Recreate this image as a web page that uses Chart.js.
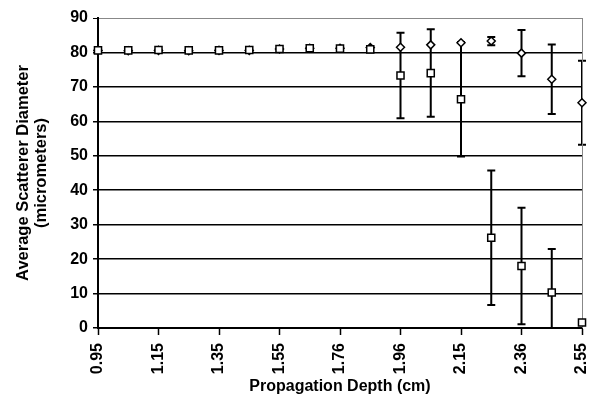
<!DOCTYPE html>
<html lang="en">
<head>
  <meta charset="UTF-8">
  <title>Average Scatterer Diameter</title>
  <script src="https://cdn.jsdelivr.net/npm/chart.js"></script>
  <style>
    body {
      margin: 0;
      background: #fff;
    }
  </style>
</head>
<body>
  <canvas id="chart" width="590" height="403"></canvas>
  <script>
    // propagation depth categories (cm)
    const depths = ['0.95', '1.05', '1.15', '1.25', '1.35', '1.45', '1.55', '1.65', '1.76',
      '1.86', '1.96', '2.05', '2.15', '2.25', '2.36', '2.45', '2.55'];

    // square markers: mean diameter and +/- error
    const squareMean = [80.6, 80.6, 80.7, 80.6, 80.6, 80.7, 81.0, 81.2, 81.1, 80.9,
      73.3, 74.0, 66.4, 26.2, 18.0, 10.3, 1.6];
    const squareErr = [0, 0, 0, 0, 0, 0, 0, 0, 0, 0,
      12.4, 12.7, 16.6, 19.5, 16.9, 12.6, 0];

    // diamond markers: mean diameter and +/- error
    const diamondMean = [80.6, 80.5, 80.6, 80.5, 80.6, 80.6, 81.0, 81.2, 81.2, 81.4,
      81.5, 82.2, 82.8, 83.3, 79.8, 72.2, 65.4];
    const diamondErr = [0, 0, 0, 0, 0, 0, 0, 0, 0, 0,
      0, 0, 0, 1.2, 6.7, 10.1, 12.2];

    const FONT = 'Liberation Sans, Arial, sans-serif';

    // vertical error bars with caps, drawn under the markers
    const errorBars = {
      id: 'errorBars',
      beforeDatasetsDraw(chart) {
        const { ctx, chartArea, scales: { x, y } } = chart;
        ctx.save();
        ctx.beginPath();
        ctx.rect(chartArea.left - 10, chartArea.top - 10, chartArea.width + 20, chartArea.height + 10);
        ctx.clip();
        ctx.strokeStyle = '#000';
        ctx.lineWidth = 2;
        chart.data.datasets.forEach(ds => {
          ds.errors.forEach((e, i) => {
            if (!e) return;
            const px = x.getPixelForValue(i);
            const top = y.getPixelForValue(ds.data[i] + e);
            const bot = y.getPixelForValue(ds.data[i] - e);
            ctx.beginPath();
            ctx.moveTo(px, top);
            ctx.lineTo(px, bot);
            ctx.moveTo(px - 4, top);
            ctx.lineTo(px + 4, top);
            ctx.moveTo(px - 4, bot);
            ctx.lineTo(px + 4, bot);
            ctx.stroke();
          });
        });
        ctx.restore();
      }
    };

    // thin frame line on the right side of the plot
    const rightFrame = {
      id: 'rightFrame',
      beforeDatasetsDraw(chart) {
        const { ctx, chartArea } = chart;
        ctx.save();
        ctx.strokeStyle = '#888';
        ctx.lineWidth = 1;
        ctx.beginPath();
        ctx.moveTo(chartArea.right + 0.5, chartArea.top);
        ctx.lineTo(chartArea.right + 0.5, chartArea.bottom);
        ctx.stroke();
        ctx.restore();
      }
    };

    new Chart(document.getElementById('chart'), {
      type: 'line',
      data: {
        labels: depths,
        datasets: [
          {
            label: 'square',
            data: squareMean,
            errors: squareErr,
            showLine: false,
            pointStyle: 'rect',
            pointRadius: 5,
            pointBorderWidth: 1.5,
            pointBorderColor: '#000',
            pointBackgroundColor: '#fff'
          },
          {
            label: 'diamond',
            data: diamondMean,
            errors: diamondErr,
            showLine: false,
            pointStyle: 'rectRot',
            pointRadius: 4,
            pointBorderWidth: 1.5,
            pointBorderColor: '#000',
            pointBackgroundColor: '#fff'
          }
        ]
      },
      options: {
        responsive: false,
        animation: false,
        devicePixelRatio: 1,
        clip: false,
        layout: {
          padding: { top: 18, right: 8, left: 0, bottom: 0 }
        },
        plugins: {
          legend: { display: false },
          tooltip: { enabled: false }
        },
        scales: {
          x: {
            type: 'category',
            offset: false,
            grid: {
              drawOnChartArea: false,
              tickLength: 7,
              tickWidth: 1.5,
              tickColor: c => (c.index % 2 ? 'rgba(0,0,0,0)' : '#000')
            },
            border: { color: '#000', width: 2 },
            ticks: {
              autoSkip: false,
              minRotation: 90,
              maxRotation: 90,
              padding: 8,
              color: '#000',
              font: { family: FONT, size: 16, weight: 'bold' },
              callback: (v, i) => (i % 2 ? '' : depths[i])
            },
            title: {
              display: true,
              text: 'Propagation Depth (cm)',
              color: '#000',
              font: { family: FONT, size: 16, weight: 'bold' },
              padding: { top: 0, bottom: 7 }
            },
            afterFit(s) {
              s.height = 75;
              s.paddingLeft = 0;
              s.paddingRight = 0;
            }
          },
          y: {
            min: 0,
            max: 90,
            ticks: {
              stepSize: 10,
              padding: 5,
              color: '#000',
              font: { family: FONT, size: 16, weight: 'bold' }
            },
            grid: {
              tickLength: 5,
              tickColor: '#000',
              color: c => (c.tick.value === 90 ? '#888' : '#000'),
              lineWidth: c => (c.tick.value === 90 ? 1 : 1.5)
            },
            border: { color: '#000', width: 2 },
            title: {
              display: true,
              text: ['Average Scatterer Diameter', '(micrometers)'],
              color: '#000',
              font: { family: FONT, size: 16.5, weight: 'bold', lineHeight: 1.05 },
              padding: { top: 15, bottom: 0 }
            },
            afterFit(s) { s.width = 98; }
          }
        }
      },
      plugins: [errorBars, rightFrame]
    });
  </script>
</body>
</html>
